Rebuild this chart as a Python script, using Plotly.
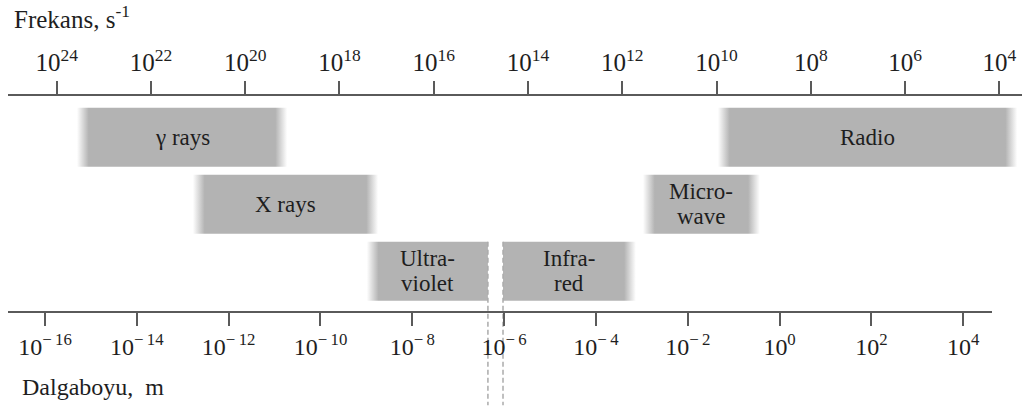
import plotly.graph_objects as go

# Electromagnetic spectrum bands, in log10 of frequency (Hz)
BAND_LINES = [["γ rays"], ["X rays"], ["Ultra-", "violet"], ["Infra-", "red"], ["Micro-", "wave"], ["Radio"]]
BAND_ROW = [1, 2, 3, 3, 2, 1]
BAND_HIGH = [23.57, 21.11, 17.42, 14.53, 11.56, 9.97]   # high-frequency end
BAND_LOW = [19.11, 17.18, 14.85, 11.71, 9.08, 3.62]     # low-frequency end
# visible-light boundaries (dashed lines) between ultraviolet and infrared
VISIBLE_EDGES = [14.85, 14.53]

# Axis tick exponents and labels
FREQ_EXP = [24, 22, 20, 18, 16, 14, 12, 10, 8, 6, 4]
WAVE_EXP = [-16, -14, -12, -10, -8, -6, -4, -2, 0, 2, 4]
FREQ_TICK_TEXT = [f"10<sup>{e}</sup>" for e in FREQ_EXP]
WAVE_TICK_TEXT = [f"10<sup>{'−\u2009' if e < 0 else ''}{abs(e)}</sup>" for e in WAVE_EXP]

SERIF = "Times New Roman, Liberation Serif, Times, DejaVu Serif, serif"
BAR = "rgb(179,179,179)"
BAR_CLEAR = "rgba(179,179,179,0)"
INK = "#1e1e1e"
AXIS_INK = "#5a5a5a"
HALF = 0.44        # half bar height in row units
FADE = 0.25        # width of the soft bar edges, in decades
W, H = 1029, 414

# which bar edges are soft: (high-frequency/left side, low-frequency/right side)
SOFT = [(True, True), (True, True), (True, False), (False, True), (True, True), (True, True)]


def pow10(e):
    return 10.0 ** e


fig = go.Figure()

for lines, row, hi, lo, (soft_left, soft_right) in zip(BAND_LINES, BAND_ROW, BAND_HIGH, BAND_LOW, SOFT):
    frac = FADE / (hi - lo)
    # horizontal gradient runs left to right across the bar
    stops = [[0, BAR_CLEAR], [frac, BAR]] if soft_left else [[0, BAR]]
    stops += [[1 - frac, BAR], [1, BAR_CLEAR]] if soft_right else [[1, BAR]]
    fig.add_trace(go.Scatter(
        x=[pow10(hi), pow10(lo), pow10(lo), pow10(hi), pow10(hi)],
        y=[row - HALF, row - HALF, row + HALF, row + HALF, row - HALF],
        mode="lines", line=dict(width=0), fill="toself",
        fillgradient=dict(type="horizontal", colorscale=stops),
        hoverinfo="skip", xaxis="x", yaxis="y",
    ))
    n = len(lines)
    for i, text in enumerate(lines):
        fig.add_annotation(
            x=(hi + lo) / 2, y=row, xref="x", yref="y", text=text,
            showarrow=False, yshift=((n - 1) / 2 - i) * 25,
            font=dict(family=SERIF, size=23, color=INK),
        )

# dashed visible-light boundaries
for edge in VISIBLE_EDGES:
    fig.add_trace(go.Scatter(
        x=[pow10(edge), pow10(edge)], y=[3 - HALF, 5.0],
        mode="lines", line=dict(color="#ababab", width=1.5, dash="5px,3px"),
        hoverinfo="skip", xaxis="x", yaxis="y",
    ))

# wavelength axis subplot
fig.add_trace(go.Scatter(x=[], y=[], xaxis="x2", yaxis="y", hoverinfo="skip"))

tick_common = dict(
    type="log", showgrid=False, zeroline=False, showline=True,
    linecolor=AXIS_INK, linewidth=2, ticks="outside", ticklen=13,
    tickwidth=1.6, tickcolor=AXIS_INK, anchor="free",
)

fig.update_layout(
    width=W, height=H,
    margin=dict(l=0, r=0, t=0, b=0),
    paper_bgcolor="white", plot_bgcolor="rgba(0,0,0,0)",
    showlegend=False,
    font=dict(family=SERIF),
    xaxis=dict(
        **tick_common, side="top", position=1 - 95 / H,
        domain=[8 / W, 1022 / W], range=[25.033, 3.518],
        tickvals=[pow10(e) for e in FREQ_EXP], ticktext=FREQ_TICK_TEXT,
        tickfont=dict(family=SERIF, size=25, color=INK),
    ),
    xaxis2=dict(
        **tick_common, side="bottom", position=1 - 312 / H,
        domain=[8 / W, 992 / W], range=[-16.806, 4.627],
        tickvals=[pow10(e) for e in WAVE_EXP], ticktext=WAVE_TICK_TEXT,
        tickfont=dict(family=SERIF, size=24, color=INK),
    ),
    yaxis=dict(visible=False, range=[5.130, -1.049], domain=[0, 1]),
)

fig.add_annotation(
    x=12 / W, y=1 - 17 / H, xref="paper", yref="paper", xanchor="left", yanchor="middle",
    text="Frekans, s<sup>-1</sup>", showarrow=False,
    font=dict(family=SERIF, size=25, color=INK),
)
fig.add_annotation(
    x=20 / W, y=1 - 387 / H, xref="paper", yref="paper", xanchor="left", yanchor="middle",
    text="Dalgaboyu,\u00a0\u00a0m", showarrow=False,
    font=dict(family=SERIF, size=24, color=INK),
)

fig.write_html("out.html")
